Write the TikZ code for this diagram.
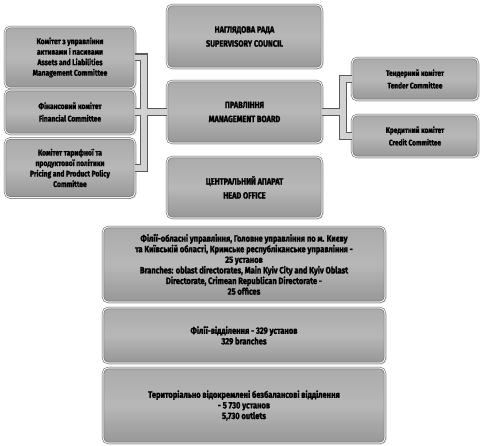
\documentclass[tikz,border=0pt]{standalone}
\usepackage{fontspec}
\setmainfont[FakeStretch=0.82, BoldFeatures={FakeBold=1.8}]{Fira Sans}
\usetikzlibrary{shadows}
\tikzset{
  box/.style={rectangle, rounded corners=5pt, draw=gray!70!black, line width=0.5pt,
    double=gray!8, double distance=1.1pt,
    top color=gray!66, bottom color=gray!82, middle color=gray!56,
    drop shadow={opacity=0.3, shadow xshift=1.5pt, shadow yshift=-1.5pt},
    align=center, text=black, inner sep=0pt},
  big/.style={box, minimum width=155pt, font=\bfseries\fontsize{9}{14}\selectfont},
  lcom/.style={box, minimum width=130pt, font=\bfseries\fontsize{8.2}{10.5}\selectfont},
  twol/.style={font=\bfseries\fontsize{8.2}{12.5}\selectfont},
  rcom/.style={box, minimum width=126pt, minimum height=42pt, font=\bfseries\fontsize{8}{12.5}\selectfont},
  low/.style={box, minimum width=282pt, font=\bfseries\fontsize{9.2}{10.6}\selectfont},
  connout/.style={draw=gray!70!black, line width=8pt},
  connin/.style={draw=gray!35, line width=5.5pt}}
\newcommand\myconnpaths[1]{%
  \draw[#1] (assets.east) -- (assets.east -| lb) -- (pricing.east -| lb) -- (pricing.east);
  \draw[#1] (fin.east) -- (board.west);
  \draw[#1] (tender.west) -- (tender.west -| rb) -- (credit.west -| rb) -- (credit.west);
  \draw[#1] (board.east) -- (board.east -| rb);}
\begin{document}
\begin{tikzpicture}[x=1pt,y=-1pt]
\useasboundingbox (0,0) rectangle (483,446);
\node[big, minimum height=63pt] (sup) at (244.5,36.5) {НАГЛЯДОВА РАДА\\SUPERVISORY COUNCIL};
\node[big, minimum height=62pt] (board) at (244.5,112) {ПРАВЛІННЯ\\MANAGEMENT BOARD};
\node[big, minimum height=61pt] (head) at (244.5,187.5) {ЦЕНТРАЛЬНИЙ АПАРАТ\\HEAD OFFICE};
\node[lcom, minimum height=61pt] (assets) at (70,57.5) {Комітет з управління\\активами і пасивами\\Assets and Liabilities\\Management Committee};
\node[lcom, twol, minimum height=44pt] (fin) at (70,112) {Фінансовий комітет\\Financial Committee};
\node[lcom, minimum height=59pt] (pricing) at (70,168) {Комітет тарифної та\\продуктової політики\\Pricing and Product Policy\\Committee};
\node[rcom] (tender) at (415,79) {Тендерний комітет\\Tender Committee};
\node[rcom] (credit) at (415,136) {Кредитний комітет\\Credit Committee};
\node[low, minimum height=75pt] (branches) at (244,264.5) {Філії-обласні управління, Головне управління по м. Києву\\та Київській області, Кримське республіканське управління -\\25 установ\\Branches: oblast directorates, Main Kyiv City and Kyiv Oblast\\Directorate, Crimean Republican Directorate -\\25 offices};
\node[low, minimum height=55pt] (b329) at (244,335.5) {Філії-відділення - 329 установ\\329 branches};
\node[low, minimum height=75pt] (outlets) at (244,405.5) {Територіально відокремлені безбалансові відділення\\- 5 730 установ\\5,730 outlets};
\coordinate (lb) at (144,0);
\coordinate (rb) at (343,0);
\myconnpaths{connout}
\myconnpaths{connin}
\end{tikzpicture}
\end{document}
